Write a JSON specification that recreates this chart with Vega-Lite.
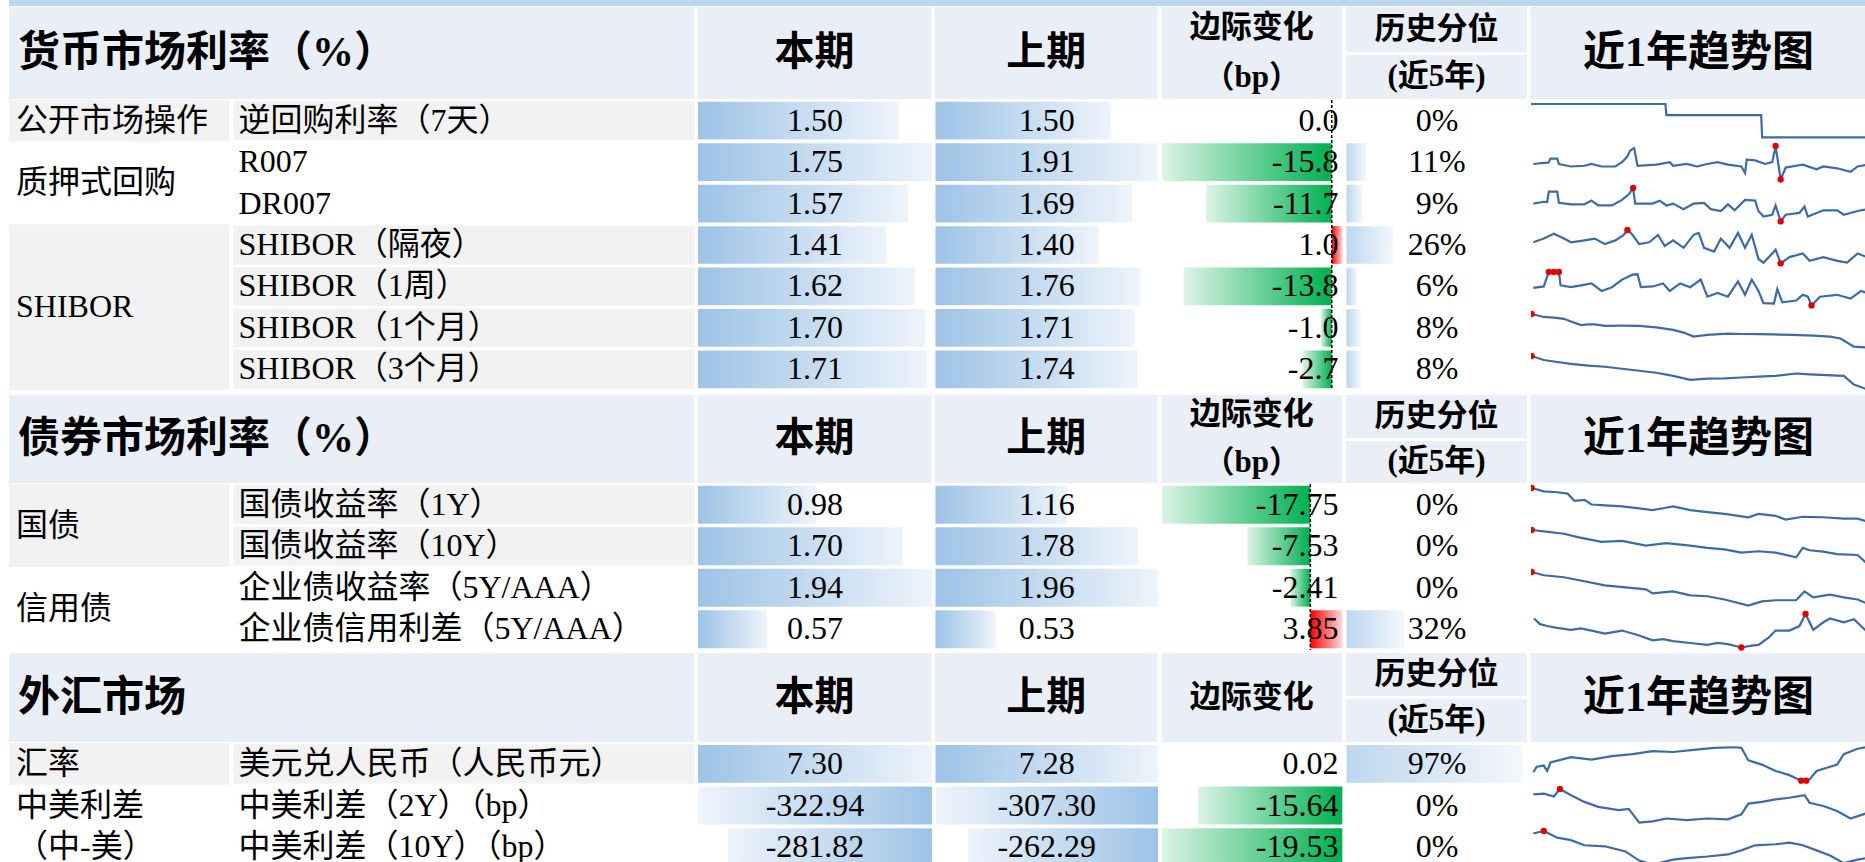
{
"$schema":"https://vega.github.io/schema/vega-lite/v6.json",
"padding":{"left":9,"top":0,"right":0,"bottom":0},
"background":"white",
"config":{"view":{"stroke":null},"font":"Liberation Serif, Noto Sans CJK SC","locale":{"number":{"decimal":".","thousands":",","grouping":[3],"currency":["$",""],"minus":"-"}}},
"datasets":{
"s1":[
{"g":1,"cat":"公开市场操作","item":"逆回购利率（7天）","cur":1.50,"prev":1.50,"chg":0.0,"pct":0.00},
{"g":2,"cat":"质押式回购","item":"R007","cur":1.75,"prev":1.91,"chg":-15.8,"pct":0.11},
{"g":2,"cat":"质押式回购","item":"DR007","cur":1.57,"prev":1.69,"chg":-11.7,"pct":0.09},
{"g":3,"cat":"SHIBOR","item":"SHIBOR（隔夜）","cur":1.41,"prev":1.40,"chg":1.0,"pct":0.26},
{"g":3,"cat":"SHIBOR","item":"SHIBOR（1周）","cur":1.62,"prev":1.76,"chg":-13.8,"pct":0.06},
{"g":3,"cat":"SHIBOR","item":"SHIBOR（1个月）","cur":1.70,"prev":1.71,"chg":-1.0,"pct":0.08},
{"g":3,"cat":"SHIBOR","item":"SHIBOR（3个月）","cur":1.71,"prev":1.74,"chg":-2.7,"pct":0.08}],
"s2":[
{"g":1,"cat":"国债","item":"国债收益率（1Y）","cur":0.98,"prev":1.16,"chg":-17.75,"pct":0},
{"g":1,"cat":"国债","item":"国债收益率（10Y）","cur":1.70,"prev":1.78,"chg":-7.53,"pct":0},
{"g":2,"cat":"信用债","item":"企业债收益率（5Y/AAA）","cur":1.94,"prev":1.96,"chg":-2.41,"pct":0},
{"g":2,"cat":"信用债","item":"企业债信用利差（5Y/AAA）","cur":0.57,"prev":0.53,"chg":3.85,"pct":0.32}],
"s3":[
{"g":1,"cat":"汇率","item":"美元兑人民币（人民币元）","cur":7.30,"prev":7.28,"chg":0.02,"pct":0.97},
{"g":2,"cat":"中美利差\n（中-美）","item":"中美利差（2Y）（bp）","cur":-322.94,"prev":-307.30,"chg":-15.64,"pct":0},
{"g":2,"cat":"中美利差\n（中-美）","item":"中美利差（10Y）（bp）","cur":-281.82,"prev":-262.29,"chg":-19.53,"pct":0}],
"sp1":[
{"s":"逆回购","t":0,"v":1.8},{"s":"逆回购","t":10,"v":1.8},{"s":"逆回购","t":20,"v":1.8},{"s":"逆回购","t":30,"v":1.8},{"s":"逆回购","t":40,"v":1.8},{"s":"逆回购","t":40.3,"v":1.7},{"s":"逆回购","t":50,"v":1.7},{"s":"逆回购","t":60,"v":1.7},{"s":"逆回购","t":68.5,"v":1.7},{"s":"逆回购","t":68.8,"v":1.5},{"s":"逆回购","t":80,"v":1.5},{"s":"逆回购","t":90,"v":1.5},{"s":"逆回购","t":100,"v":1.5},
{"s":"R007","t":0.7,"v":1.850},{"s":"R007","t":3.8,"v":1.865},{"s":"R007","t":5.2,"v":1.868},{"s":"R007","t":5.8,"v":1.925},{"s":"R007","t":7.8,"v":1.925},{"s":"R007","t":8.3,"v":1.850},{"s":"R007","t":11.9,"v":1.815},{"s":"R007","t":15.9,"v":1.825},{"s":"R007","t":18.0,"v":1.850},{"s":"R007","t":21.0,"v":1.815},{"s":"R007","t":25.1,"v":1.815},{"s":"R007","t":27.1,"v":1.875},{"s":"R007","t":28.6,"v":1.950},{"s":"R007","t":29.6,"v":2.040},{"s":"R007","t":30.7,"v":2.070},{"s":"R007","t":31.7,"v":1.825},{"s":"R007","t":37.3,"v":1.840},{"s":"R007","t":41.3,"v":1.875},{"s":"R007","t":42.3,"v":1.825},{"s":"R007","t":46.4,"v":1.850},{"s":"R007","t":49.4,"v":1.815},{"s":"R007","t":52.5,"v":1.850},{"s":"R007","t":55.5,"v":1.875},{"s":"R007","t":58.6,"v":1.840},{"s":"R007","t":62.6,"v":1.815},{"s":"R007","t":63.7,"v":1.725},{"s":"R007","t":64.2,"v":1.910},{"s":"R007","t":66.7,"v":1.900},{"s":"R007","t":69.7,"v":1.850},{"s":"R007","t":71.8,"v":1.875},{"s":"R007","t":72.8,"v":2.100,"hl":"high"},{"s":"R007","t":74.3,"v":1.635,"hl":"low"},{"s":"R007","t":75.8,"v":1.800},{"s":"R007","t":78.9,"v":1.825},{"s":"R007","t":80.9,"v":1.840},{"s":"R007","t":85.0,"v":1.775},{"s":"R007","t":87.0,"v":1.815},{"s":"R007","t":91.1,"v":1.790},{"s":"R007","t":95.1,"v":1.740},{"s":"R007","t":97.2,"v":1.815},{"s":"R007","t":100,"v":1.840},
{"s":"DR007","t":0.7,"v":1.800},{"s":"DR007","t":3.8,"v":1.820},{"s":"DR007","t":4.8,"v":1.816},{"s":"DR007","t":5.3,"v":1.928},{"s":"DR007","t":7.8,"v":1.928},{"s":"DR007","t":8.3,"v":1.808},{"s":"DR007","t":11.9,"v":1.792},{"s":"DR007","t":15.9,"v":1.792},{"s":"DR007","t":18.0,"v":1.832},{"s":"DR007","t":20.0,"v":1.780},{"s":"DR007","t":24.1,"v":1.780},{"s":"DR007","t":27.1,"v":1.840},{"s":"DR007","t":29.1,"v":1.900},{"s":"DR007","t":30.4,"v":1.968,"hl":"high"},{"s":"DR007","t":31.0,"v":1.800},{"s":"DR007","t":36.2,"v":1.800},{"s":"DR007","t":38.3,"v":1.832},{"s":"DR007","t":40.3,"v":1.780},{"s":"DR007","t":42.3,"v":1.800},{"s":"DR007","t":45.4,"v":1.740},{"s":"DR007","t":48.4,"v":1.800},{"s":"DR007","t":51.5,"v":1.808},{"s":"DR007","t":53.5,"v":1.740},{"s":"DR007","t":56.5,"v":1.720},{"s":"DR007","t":58.6,"v":1.792},{"s":"DR007","t":60.6,"v":1.728},{"s":"DR007","t":63.7,"v":1.840},{"s":"DR007","t":66.7,"v":1.832},{"s":"DR007","t":67.7,"v":1.720},{"s":"DR007","t":69.2,"v":1.660},{"s":"DR007","t":71.8,"v":1.680},{"s":"DR007","t":72.8,"v":1.780},{"s":"DR007","t":74.3,"v":1.608,"hl":"low"},{"s":"DR007","t":75.8,"v":1.680},{"s":"DR007","t":79.9,"v":1.700},{"s":"DR007","t":81.4,"v":1.768},{"s":"DR007","t":82.4,"v":1.660},{"s":"DR007","t":87.0,"v":1.728},{"s":"DR007","t":91.1,"v":1.728},{"s":"DR007","t":93.1,"v":1.680},{"s":"DR007","t":97.2,"v":1.720},{"s":"DR007","t":100,"v":1.740},
{"s":"隔夜","t":0.7,"v":1.750},{"s":"隔夜","t":3.8,"v":1.790},{"s":"隔夜","t":6.8,"v":1.842},{"s":"隔夜","t":9.8,"v":1.790},{"s":"隔夜","t":11.9,"v":1.750},{"s":"隔夜","t":15.9,"v":1.770},{"s":"隔夜","t":19.0,"v":1.790},{"s":"隔夜","t":22.0,"v":1.730},{"s":"隔夜","t":25.1,"v":1.770},{"s":"隔夜","t":27.6,"v":1.830},{"s":"隔夜","t":28.7,"v":1.882,"hl":"high"},{"s":"隔夜","t":30.2,"v":1.830},{"s":"隔夜","t":32.2,"v":1.730},{"s":"隔夜","t":35.2,"v":1.750},{"s":"隔夜","t":37.8,"v":1.830},{"s":"隔夜","t":39.8,"v":1.710},{"s":"隔夜","t":42.3,"v":1.770},{"s":"隔夜","t":45.4,"v":1.690},{"s":"隔夜","t":48.4,"v":1.830},{"s":"隔夜","t":49.9,"v":1.850},{"s":"隔夜","t":51.5,"v":1.690},{"s":"隔夜","t":54.5,"v":1.650},{"s":"隔夜","t":56.5,"v":1.790},{"s":"隔夜","t":59.1,"v":1.690},{"s":"隔夜","t":61.6,"v":1.850},{"s":"隔夜","t":63.7,"v":1.690},{"s":"隔夜","t":65.7,"v":1.830},{"s":"隔夜","t":67.7,"v":1.570},{"s":"隔夜","t":69.2,"v":1.530},{"s":"隔夜","t":71.8,"v":1.630},{"s":"隔夜","t":72.8,"v":1.670},{"s":"隔夜","t":74.3,"v":1.522,"hl":"low"},{"s":"隔夜","t":76.9,"v":1.590},{"s":"隔夜","t":80.9,"v":1.630},{"s":"隔夜","t":82.9,"v":1.550},{"s":"隔夜","t":87.0,"v":1.590},{"s":"隔夜","t":91.1,"v":1.550},{"s":"隔夜","t":94.1,"v":1.530},{"s":"隔夜","t":97.2,"v":1.630},{"s":"隔夜","t":100,"v":1.590},
{"s":"1周","t":0.7,"v":1.850},{"s":"1周","t":3.8,"v":1.866},{"s":"1周","t":5.3,"v":2.018,"hl":"high"},{"s":"1周","t":6.8,"v":2.018,"hl":"high"},{"s":"1周","t":8.3,"v":2.018,"hl":"high"},{"s":"1周","t":8.8,"v":1.878},{"s":"1周","t":11.9,"v":1.858},{"s":"1周","t":14.9,"v":1.878},{"s":"1周","t":18.0,"v":1.898},{"s":"1周","t":21.0,"v":1.818},{"s":"1周","t":24.1,"v":1.858},{"s":"1周","t":27.1,"v":1.938},{"s":"1周","t":30.2,"v":1.990},{"s":"1周","t":31.7,"v":1.994},{"s":"1周","t":32.7,"v":1.858},{"s":"1周","t":36.2,"v":1.866},{"s":"1周","t":39.3,"v":1.898},{"s":"1周","t":41.3,"v":1.818},{"s":"1周","t":44.4,"v":1.898},{"s":"1周","t":47.4,"v":1.858},{"s":"1周","t":50.5,"v":1.938},{"s":"1周","t":52.5,"v":1.758},{"s":"1周","t":55.5,"v":1.798},{"s":"1周","t":58.6,"v":1.758},{"s":"1周","t":61.6,"v":1.918},{"s":"1周","t":63.7,"v":1.778},{"s":"1周","t":65.7,"v":1.938},{"s":"1周","t":67.7,"v":1.818},{"s":"1周","t":69.2,"v":1.690},{"s":"1周","t":72.3,"v":1.686},{"s":"1周","t":73.3,"v":1.838},{"s":"1周","t":74.8,"v":1.698},{"s":"1周","t":78.9,"v":1.718},{"s":"1周","t":80.9,"v":1.778},{"s":"1周","t":82.4,"v":1.758},{"s":"1周","t":83.5,"v":1.666,"hl":"low"},{"s":"1周","t":86.0,"v":1.758},{"s":"1周","t":91.1,"v":1.778},{"s":"1周","t":95.1,"v":1.738},{"s":"1周","t":98.2,"v":1.818},{"s":"1周","t":100,"v":1.798},
{"s":"1个月","t":0.2,"v":2.100,"hl":"high"},{"s":"1个月","t":3.8,"v":2.064},{"s":"1个月","t":6.8,"v":2.055},{"s":"1个月","t":9.8,"v":2.042},{"s":"1个月","t":11.9,"v":2.010},{"s":"1个月","t":14.9,"v":1.965},{"s":"1个月","t":17.0,"v":1.974},{"s":"1个月","t":19.0,"v":1.974},{"s":"1个月","t":22.0,"v":1.956},{"s":"1个月","t":27.0,"v":1.958},{"s":"1个月","t":32.2,"v":1.956},{"s":"1个月","t":37.3,"v":1.938},{"s":"1个月","t":42.3,"v":1.907},{"s":"1个月","t":45.4,"v":1.875},{"s":"1个月","t":48.4,"v":1.826},{"s":"1个月","t":52.5,"v":1.848},{"s":"1个月","t":58.6,"v":1.862},{"s":"1个月","t":63.0,"v":1.858},{"s":"1个月","t":67.7,"v":1.857},{"s":"1个月","t":72.0,"v":1.852},{"s":"1个月","t":77.9,"v":1.848},{"s":"1个月","t":84.0,"v":1.839},{"s":"1个月","t":89.0,"v":1.826},{"s":"1个月","t":92.1,"v":1.803},{"s":"1个月","t":96.1,"v":1.704},{"s":"1个月","t":100,"v":1.695},
{"s":"3个月","t":0.2,"v":2.200,"hl":"high"},{"s":"3个月","t":3.8,"v":2.150},{"s":"3个月","t":7.8,"v":2.125},{"s":"3个月","t":11.9,"v":2.100},{"s":"3个月","t":17.0,"v":2.080},{"s":"3个月","t":22.0,"v":2.065},{"s":"3个月","t":27.1,"v":2.040},{"s":"3个月","t":32.2,"v":2.015},{"s":"3个月","t":37.3,"v":1.990},{"s":"3个月","t":42.3,"v":1.950},{"s":"3个月","t":47.4,"v":1.900},{"s":"3个月","t":52.5,"v":1.915},{"s":"3个月","t":57.6,"v":1.920},{"s":"3个月","t":62.6,"v":1.930},{"s":"3个月","t":67.7,"v":1.940},{"s":"3个月","t":72.8,"v":1.950},{"s":"3个月","t":78.9,"v":1.980},{"s":"3个月","t":82.9,"v":1.970},{"s":"3个月","t":88.0,"v":1.960},{"s":"3个月","t":93.1,"v":1.950},{"s":"3个月","t":96.1,"v":1.840},{"s":"3个月","t":100,"v":1.780}],
"sp2":[
{"s":"1Y","t":0.2,"v":2.100,"hl":"high"},{"s":"1Y","t":3.8,"v":2.016},{"s":"1Y","t":7.8,"v":1.992},{"s":"1Y","t":10.9,"v":1.956},{"s":"1Y","t":12.9,"v":1.776},{"s":"1Y","t":15.9,"v":1.800},{"s":"1Y","t":18.0,"v":1.680},{"s":"1Y","t":22.0,"v":1.656},{"s":"1Y","t":27.1,"v":1.632},{"s":"1Y","t":32.2,"v":1.584},{"s":"1Y","t":36.2,"v":1.536},{"s":"1Y","t":39.3,"v":1.584},{"s":"1Y","t":42.3,"v":1.632},{"s":"1Y","t":47.4,"v":1.536},{"s":"1Y","t":52.5,"v":1.488},{"s":"1Y","t":57.6,"v":1.440},{"s":"1Y","t":64.7,"v":1.356},{"s":"1Y","t":67.7,"v":1.440},{"s":"1Y","t":72.8,"v":1.392},{"s":"1Y","t":75.8,"v":1.296},{"s":"1Y","t":80.9,"v":1.368},{"s":"1Y","t":87.0,"v":1.356},{"s":"1Y","t":93.1,"v":1.320},{"s":"1Y","t":97.2,"v":1.320},{"s":"1Y","t":100,"v":1.248},
{"s":"10Y","t":0.2,"v":2.550,"hl":"high"},{"s":"10Y","t":3.8,"v":2.526},{"s":"10Y","t":9.8,"v":2.486},{"s":"10Y","t":13.9,"v":2.430},{"s":"10Y","t":18.0,"v":2.382},{"s":"10Y","t":21.0,"v":2.350},{"s":"10Y","t":27.1,"v":2.366},{"s":"10Y","t":34.2,"v":2.286},{"s":"10Y","t":40.3,"v":2.326},{"s":"10Y","t":47.4,"v":2.286},{"s":"10Y","t":52.5,"v":2.246},{"s":"10Y","t":57.6,"v":2.222},{"s":"10Y","t":62.6,"v":2.166},{"s":"10Y","t":67.7,"v":2.190},{"s":"10Y","t":72.8,"v":2.166},{"s":"10Y","t":78.9,"v":2.086},{"s":"10Y","t":80.9,"v":2.246},{"s":"10Y","t":82.9,"v":2.206},{"s":"10Y","t":87.0,"v":2.182},{"s":"10Y","t":91.1,"v":2.142},{"s":"10Y","t":97.2,"v":2.126},{"s":"10Y","t":100,"v":1.982},
{"s":"企业债","t":0.2,"v":2.750,"hl":"high"},{"s":"企业债","t":3.8,"v":2.682},{"s":"企业债","t":9.8,"v":2.640},{"s":"企业债","t":15.9,"v":2.555},{"s":"企业债","t":22.0,"v":2.470},{"s":"企业债","t":28.1,"v":2.427},{"s":"企业债","t":34.2,"v":2.385},{"s":"企业债","t":36.2,"v":2.300},{"s":"企业债","t":42.3,"v":2.342},{"s":"企业债","t":47.4,"v":2.257},{"s":"企业债","t":52.5,"v":2.240},{"s":"企业债","t":57.6,"v":2.172},{"s":"企业债","t":64.7,"v":2.045},{"s":"企业债","t":68.7,"v":2.130},{"s":"企业债","t":72.8,"v":2.155},{"s":"企业债","t":78.9,"v":2.155},{"s":"企业债","t":81.4,"v":2.342},{"s":"企业债","t":84.0,"v":2.215},{"s":"企业债","t":89.0,"v":2.274},{"s":"企业债","t":93.1,"v":2.215},{"s":"企业债","t":97.2,"v":2.172},{"s":"企业债","t":100,"v":2.087},
{"s":"信用利差","t":0.9,"v":0.550},{"s":"信用利差","t":2.7,"v":0.505},{"s":"信用利差","t":4.8,"v":0.490},{"s":"信用利差","t":7.8,"v":0.475},{"s":"信用利差","t":11.9,"v":0.460},{"s":"信用利差","t":14.9,"v":0.472},{"s":"信用利差","t":18.0,"v":0.454},{"s":"信用利差","t":22.0,"v":0.430},{"s":"信用利差","t":27.1,"v":0.454},{"s":"信用利差","t":32.2,"v":0.415},{"s":"信用利差","t":36.2,"v":0.376},{"s":"信用利差","t":39.3,"v":0.385},{"s":"信用利差","t":42.3,"v":0.370},{"s":"信用利差","t":47.4,"v":0.355},{"s":"信用利差","t":52.5,"v":0.340},{"s":"信用利差","t":55.5,"v":0.355},{"s":"信用利差","t":58.6,"v":0.346},{"s":"信用利差","t":62.6,"v":0.319,"hl":"low"},{"s":"信用利差","t":65.7,"v":0.334},{"s":"信用利差","t":67.7,"v":0.340},{"s":"信用利差","t":70.8,"v":0.400},{"s":"信用利差","t":72.8,"v":0.454},{"s":"信用利差","t":76.9,"v":0.454},{"s":"信用利差","t":79.9,"v":0.490},{"s":"信用利差","t":81.7,"v":0.586,"hl":"high"},{"s":"信用利差","t":84.0,"v":0.460},{"s":"信用利差","t":87.0,"v":0.520},{"s":"信用利差","t":89.0,"v":0.550},{"s":"信用利差","t":93.1,"v":0.520},{"s":"信用利差","t":96.1,"v":0.544},{"s":"信用利差","t":100,"v":0.445}],
"sp3":[
{"s":"汇率","t":0.7,"v":7.068},{"s":"汇率","t":1.7,"v":7.110},{"s":"汇率","t":3.8,"v":7.119},{"s":"汇率","t":4.8,"v":7.078},{"s":"汇率","t":5.8,"v":7.142},{"s":"汇率","t":11.9,"v":7.183},{"s":"汇率","t":18.0,"v":7.164},{"s":"汇率","t":24.1,"v":7.190},{"s":"汇率","t":30.2,"v":7.206},{"s":"汇率","t":36.2,"v":7.228},{"s":"汇率","t":42.3,"v":7.222},{"s":"汇率","t":48.4,"v":7.238},{"s":"汇率","t":54.5,"v":7.254},{"s":"汇率","t":60.6,"v":7.258},{"s":"汇率","t":62.6,"v":7.254},{"s":"汇率","t":64.7,"v":7.158},{"s":"汇率","t":68.7,"v":7.126},{"s":"汇率","t":72.8,"v":7.078},{"s":"汇率","t":76.9,"v":7.046},{"s":"汇率","t":80.4,"v":7.004,"hl":"low"},{"s":"汇率","t":81.9,"v":7.004,"hl":"low"},{"s":"汇率","t":82.9,"v":7.014},{"s":"汇率","t":85.0,"v":7.078},{"s":"汇率","t":89.0,"v":7.110},{"s":"汇率","t":91.1,"v":7.126},{"s":"汇率","t":93.1,"v":7.206},{"s":"汇率","t":97.2,"v":7.247},{"s":"汇率","t":100,"v":7.260},
{"s":"中美2Y","t":0.7,"v":-220.0},{"s":"中美2Y","t":3.8,"v":-217.0},{"s":"中美2Y","t":6.8,"v":-227.5},{"s":"中美2Y","t":8.6,"v":-200.5,"hl":"high"},{"s":"中美2Y","t":11.9,"v":-223.0},{"s":"中美2Y","t":15.9,"v":-247.0},{"s":"中美2Y","t":20.0,"v":-265.0},{"s":"中美2Y","t":26.1,"v":-277.0},{"s":"中美2Y","t":29.1,"v":-272.5},{"s":"中美2Y","t":32.2,"v":-322.0},{"s":"中美2Y","t":36.2,"v":-317.5},{"s":"中美2Y","t":40.3,"v":-307.0},{"s":"中美2Y","t":46.4,"v":-313.0},{"s":"中美2Y","t":52.5,"v":-307.0},{"s":"中美2Y","t":58.6,"v":-310.0},{"s":"中美2Y","t":62.6,"v":-292.0},{"s":"中美2Y","t":64.7,"v":-253.0},{"s":"中美2Y","t":68.7,"v":-247.0},{"s":"中美2Y","t":72.8,"v":-238.0},{"s":"中美2Y","t":76.9,"v":-232.0},{"s":"中美2Y","t":81.4,"v":-223.0},{"s":"中美2Y","t":82.9,"v":-250.0},{"s":"中美2Y","t":87.0,"v":-262.0},{"s":"中美2Y","t":91.1,"v":-280.0},{"s":"中美2Y","t":95.1,"v":-307.0},{"s":"中美2Y","t":100,"v":-287.5},
{"s":"中美10Y","t":0.7,"v":-160.0},{"s":"中美10Y","t":3.8,"v":-152.5,"hl":"high"},{"s":"中美10Y","t":7.8,"v":-172.0},{"s":"中美10Y","t":11.9,"v":-179.5},{"s":"中美10Y","t":15.9,"v":-194.5},{"s":"中美10Y","t":22.0,"v":-197.5},{"s":"中美10Y","t":28.1,"v":-212.5},{"s":"中美10Y","t":32.2,"v":-239.5},{"s":"中美10Y","t":36.2,"v":-251.5},{"s":"中美10Y","t":42.3,"v":-236.5},{"s":"中美10Y","t":46.4,"v":-232.0},{"s":"中美10Y","t":52.5,"v":-227.5},{"s":"中美10Y","t":58.6,"v":-221.5},{"s":"中美10Y","t":62.6,"v":-209.5},{"s":"中美10Y","t":66.7,"v":-194.5},{"s":"中美10Y","t":72.8,"v":-191.5},{"s":"中美10Y","t":76.9,"v":-187.0},{"s":"中美10Y","t":80.9,"v":-194.5},{"s":"中美10Y","t":85.0,"v":-209.5},{"s":"中美10Y","t":89.0,"v":-224.5},{"s":"中美10Y","t":93.1,"v":-247.0},{"s":"中美10Y","t":97.2,"v":-236.5},{"s":"中美10Y","t":100,"v":-232.0}]
},
"vconcat":[
{"width":1856,"height":6,"data":{"values":[{}]},"mark":{"type":"rect","fill":"#BDD7EE"},"encoding":{"x":{"value":0},"x2":{"value":"width"},"y":{"value":0},"y2":{"value":"height"}}},

{"hconcat":[
{"width":685,"height":92,"view":{"fill":"#E9EEF7","stroke":null},"data":{"values":[{"t":"货币市场利率（%）"}]},"mark":{"type":"text","align":"left","baseline":"middle","dx":9,"fontSize":42,"fontWeight":"bold"},"encoding":{"x":{"value":0},"text":{"field":"t"}}},
{"width":234,"height":92,"view":{"fill":"#E9EEF7","stroke":null},"data":{"values":[{"t":"本期"}]},"mark":{"type":"text","baseline":"middle","fontSize":40,"fontWeight":"bold"},"encoding":{"text":{"field":"t"}}},
{"width":222.5,"height":92,"view":{"fill":"#E9EEF7","stroke":null},"data":{"values":[{"t":"上期"}]},"mark":{"type":"text","baseline":"middle","fontSize":40,"fontWeight":"bold"},"encoding":{"text":{"field":"t"}}},
{"width":180.5,"height":92,"view":{"fill":"#E9EEF7","stroke":null},"data":{"values":[{"t":"边际变化\n（bp）"}]},"mark":{"type":"text","baseline":"middle","dy":-25,"fontSize":31,"fontWeight":"bold","lineBreak":"\n","lineHeight":50},"encoding":{"text":{"field":"t"}}},
{"vconcat":[
{"width":181,"height":45,"view":{"fill":"#E9EEF7","stroke":null},"data":{"values":[{"t":"历史分位"}]},"mark":{"type":"text","baseline":"middle","fontSize":31,"fontWeight":"bold"},"encoding":{"text":{"field":"t"}}},
{"width":181,"height":44,"view":{"fill":"#E9EEF7","stroke":null},"data":{"values":[{"t":"(近5年)"}]},"mark":{"type":"text","baseline":"middle","fontSize":31,"fontWeight":"bold"},"encoding":{"text":{"field":"t"}}}
],"spacing":3},
{"width":336,"height":92,"view":{"fill":"#E9EEF7","stroke":null},"data":{"values":[{"t":"近1年趋势图"}]},"mark":{"type":"text","baseline":"middle","fontSize":42,"fontWeight":"bold"},"encoding":{"text":{"field":"t"}}}
],"spacing":3.5},

{"hconcat":[
{"width":220.5,"height":290,"data":{"name":"s1"},
"transform":[{"window":[{"op":"row_number","as":"rn"}]},{"aggregate":[{"op":"min","field":"rn","as":"r0"},{"op":"max","field":"rn","as":"r1"}],"groupby":["cat","g"]},{"calculate":"datum.r0-1","as":"top"},{"calculate":"(datum.r0-1+datum.r1)/2","as":"mid"}],
"layer":[
{"transform":[{"filter":"datum.g%2==1"}],"mark":{"type":"rect","fill":"#F2F2F2"},"encoding":{"x":{"value":0},"x2":{"value":"width"},"y":{"field":"top","type":"quantitative","scale":{"domain":[0,7],"reverse":true,"nice":false,"zero":false},"axis":null},"y2":{"field":"r1"}}},
{"mark":{"type":"text","align":"left","baseline":"middle","dx":7,"fontSize":32,"lineBreak":"\n","lineHeight":41.5},"encoding":{"x":{"value":0},"y":{"field":"mid","type":"quantitative"},"text":{"field":"cat"}}}
]},
{"width":461,"height":290,"data":{"name":"s1"},
"encoding":{"y":{"field":"item","type":"nominal","scale":{"domain":["逆回购利率（7天）","R007","DR007","SHIBOR（隔夜）","SHIBOR（1周）","SHIBOR（1个月）","SHIBOR（3个月）"],"paddingInner":0.06,"paddingOuter":0.03},"axis":null}},
"layer":[
{"transform":[{"filter":"datum.g%2==1"}],"mark":{"type":"rect","fill":"#F2F2F2"},"encoding":{"x":{"value":0},"x2":{"value":"width"}}},
{"mark":{"type":"text","align":"left","baseline":"middle","dx":5,"fontSize":32},"encoding":{"x":{"value":0},"text":{"field":"item"}}}
]},
{"width":234,"height":290,"data":{"name":"s1"},
"encoding":{"y":{"field":"item","type":"nominal","scale":{"domain":["逆回购利率（7天）","R007","DR007","SHIBOR（隔夜）","SHIBOR（1周）","SHIBOR（1个月）","SHIBOR（3个月）"],"paddingInner":0.09,"paddingOuter":0.045},"axis":null}},
"layer":[
{"mark":{"type":"bar","fill":{"gradient":"linear","x1":0,"y1":0,"x2":1,"y2":0,"stops":[{"offset":0,"color":"#9DC3E6"},{"offset":1,"color":"#EEF4FB"}]}},"encoding":{"x":{"field":"cur","type":"quantitative","scale":{"nice":false},"axis":null}}},
{"mark":{"type":"text","baseline":"middle","fontSize":32},"encoding":{"text":{"field":"cur","format":".2f"}}}
]},
{"width":222.5,"height":290,"data":{"name":"s1"},
"encoding":{"y":{"field":"item","type":"nominal","scale":{"domain":["逆回购利率（7天）","R007","DR007","SHIBOR（隔夜）","SHIBOR（1周）","SHIBOR（1个月）","SHIBOR（3个月）"],"paddingInner":0.09,"paddingOuter":0.045},"axis":null}},
"layer":[
{"mark":{"type":"bar","fill":{"gradient":"linear","x1":0,"y1":0,"x2":1,"y2":0,"stops":[{"offset":0,"color":"#9DC3E6"},{"offset":1,"color":"#EEF4FB"}]}},"encoding":{"x":{"field":"prev","type":"quantitative","scale":{"nice":false},"axis":null}}},
{"mark":{"type":"text","baseline":"middle","fontSize":32},"encoding":{"text":{"field":"prev","format":".2f"}}}
]},
{"width":180.5,"height":290,"data":{"name":"s1"},
"layer":[
{"transform":[{"filter":"datum.chg<0"}],"mark":{"type":"bar","fill":{"gradient":"linear","x1":0,"y1":0,"x2":1,"y2":0,"stops":[{"offset":0,"color":"#DDF4E6"},{"offset":1,"color":"#00B050"}]}},"encoding":{"y":{"field":"item","type":"nominal","scale":{"domain":["逆回购利率（7天）","R007","DR007","SHIBOR（隔夜）","SHIBOR（1周）","SHIBOR（1个月）","SHIBOR（3个月）"],"paddingInner":0.09,"paddingOuter":0.045},"axis":null},"x":{"field":"chg","type":"quantitative","scale":{"nice":false},"axis":null}}},
{"transform":[{"filter":"datum.chg>0"}],"mark":{"type":"bar","fill":{"gradient":"linear","x1":0,"y1":0,"x2":1,"y2":0,"stops":[{"offset":0,"color":"#FF0000"},{"offset":1,"color":"#FFDADA"}]}},"encoding":{"y":{"field":"item","type":"nominal"},"x":{"field":"chg","type":"quantitative"}}},
{"data":{"values":[{}]},"mark":{"type":"rule","color":"black","strokeDash":[3,2],"strokeWidth":1.5,"clip":true},"encoding":{"x":{"datum":0,"type":"quantitative"}}},
{"mark":{"type":"text","align":"right","baseline":"middle","dx":-4,"fontSize":32},"encoding":{"y":{"field":"item","type":"nominal"},"x":{"value":"width"},"text":{"field":"chg","format":".1f"}}}
]},
{"width":181,"height":290,"data":{"name":"s1"},
"encoding":{"y":{"field":"item","type":"nominal","scale":{"domain":["逆回购利率（7天）","R007","DR007","SHIBOR（隔夜）","SHIBOR（1周）","SHIBOR（1个月）","SHIBOR（3个月）"],"paddingInner":0.09,"paddingOuter":0.045},"axis":null}},
"layer":[
{"mark":{"type":"bar","fill":{"gradient":"linear","x1":0,"y1":0,"x2":1,"y2":0,"stops":[{"offset":0,"color":"#BDD7EE"},{"offset":1,"color":"#F4F8FC"}]}},"encoding":{"x":{"field":"pct","type":"quantitative","scale":{"domain":[0,1],"nice":false},"axis":null}}},
{"mark":{"type":"text","baseline":"middle","fontSize":32},"encoding":{"text":{"field":"pct","format":".0%"}}}
]},
{"data":{"name":"sp1"},
"facet":{"row":{"field":"s","type":"nominal","sort":["逆回购","R007","DR007","隔夜","1周","1个月","3个月"],"header":null}},
"spacing":{"row":0},"bounds":"flush",
"resolve":{"scale":{"y":"independent"}},
"spec":{"width":336,"height":41.43,
"layer":[
{"mark":{"type":"line","color":"#3C6BA5","strokeWidth":2.2,"clip":true},"encoding":{"x":{"field":"t","type":"quantitative","scale":{"domain":[0,100],"nice":false},"axis":null},"y":{"field":"v","type":"quantitative","scale":{"zero":false,"nice":false,"padding":4},"axis":null}}},
{"transform":[{"filter":"datum.hl"}],"mark":{"type":"point","filled":true,"color":"#E00000","size":40,"opacity":1,"clip":true},"encoding":{"x":{"field":"t","type":"quantitative"},"y":{"field":"v","type":"quantitative"}}}
]}}
],"spacing":3.5},

{"hconcat":[
{"width":685,"height":88,"view":{"fill":"#E9EEF7","stroke":null},"data":{"values":[{"t":"债券市场利率（%）"}]},"mark":{"type":"text","align":"left","baseline":"middle","dx":9,"fontSize":42,"fontWeight":"bold"},"encoding":{"x":{"value":0},"text":{"field":"t"}}},
{"width":234,"height":88,"view":{"fill":"#E9EEF7","stroke":null},"data":{"values":[{"t":"本期"}]},"mark":{"type":"text","baseline":"middle","fontSize":40,"fontWeight":"bold"},"encoding":{"text":{"field":"t"}}},
{"width":222.5,"height":88,"view":{"fill":"#E9EEF7","stroke":null},"data":{"values":[{"t":"上期"}]},"mark":{"type":"text","baseline":"middle","fontSize":40,"fontWeight":"bold"},"encoding":{"text":{"field":"t"}}},
{"width":180.5,"height":88,"view":{"fill":"#E9EEF7","stroke":null},"data":{"values":[{"t":"边际变化\n（bp）"}]},"mark":{"type":"text","baseline":"middle","dy":-24,"fontSize":31,"fontWeight":"bold","lineBreak":"\n","lineHeight":48},"encoding":{"text":{"field":"t"}}},
{"vconcat":[
{"width":181,"height":43,"view":{"fill":"#E9EEF7","stroke":null},"data":{"values":[{"t":"历史分位"}]},"mark":{"type":"text","baseline":"middle","fontSize":31,"fontWeight":"bold"},"encoding":{"text":{"field":"t"}}},
{"width":181,"height":42,"view":{"fill":"#E9EEF7","stroke":null},"data":{"values":[{"t":"(近5年)"}]},"mark":{"type":"text","baseline":"middle","fontSize":31,"fontWeight":"bold"},"encoding":{"text":{"field":"t"}}}
],"spacing":3},
{"width":336,"height":88,"view":{"fill":"#E9EEF7","stroke":null},"data":{"values":[{"t":"近1年趋势图"}]},"mark":{"type":"text","baseline":"middle","fontSize":42,"fontWeight":"bold"},"encoding":{"text":{"field":"t"}}}
],"spacing":3.5},

{"hconcat":[
{"width":220.5,"height":166,"data":{"name":"s2"},
"transform":[{"window":[{"op":"row_number","as":"rn"}]},{"aggregate":[{"op":"min","field":"rn","as":"r0"},{"op":"max","field":"rn","as":"r1"}],"groupby":["cat","g"]},{"calculate":"datum.r0-1","as":"top"},{"calculate":"(datum.r0-1+datum.r1)/2","as":"mid"}],
"layer":[
{"transform":[{"filter":"datum.g%2==1"}],"mark":{"type":"rect","fill":"#F2F2F2"},"encoding":{"x":{"value":0},"x2":{"value":"width"},"y":{"field":"top","type":"quantitative","scale":{"domain":[0,4],"reverse":true,"nice":false,"zero":false},"axis":null},"y2":{"field":"r1"}}},
{"mark":{"type":"text","align":"left","baseline":"middle","dx":7,"fontSize":32,"lineBreak":"\n","lineHeight":41.5},"encoding":{"x":{"value":0},"y":{"field":"mid","type":"quantitative"},"text":{"field":"cat"}}}
]},
{"width":461,"height":166,"data":{"name":"s2"},
"encoding":{"y":{"field":"item","type":"nominal","scale":{"domain":["国债收益率（1Y）","国债收益率（10Y）","企业债收益率（5Y/AAA）","企业债信用利差（5Y/AAA）"],"paddingInner":0.06,"paddingOuter":0.03},"axis":null}},
"layer":[
{"transform":[{"filter":"datum.g%2==1"}],"mark":{"type":"rect","fill":"#F2F2F2"},"encoding":{"x":{"value":0},"x2":{"value":"width"}}},
{"mark":{"type":"text","align":"left","baseline":"middle","dx":5,"fontSize":32},"encoding":{"x":{"value":0},"text":{"field":"item"}}}
]},
{"width":234,"height":166,"data":{"name":"s2"},
"encoding":{"y":{"field":"item","type":"nominal","scale":{"domain":["国债收益率（1Y）","国债收益率（10Y）","企业债收益率（5Y/AAA）","企业债信用利差（5Y/AAA）"],"paddingInner":0.09,"paddingOuter":0.045},"axis":null}},
"layer":[
{"mark":{"type":"bar","fill":{"gradient":"linear","x1":0,"y1":0,"x2":1,"y2":0,"stops":[{"offset":0,"color":"#9DC3E6"},{"offset":1,"color":"#EEF4FB"}]}},"encoding":{"x":{"field":"cur","type":"quantitative","scale":{"nice":false},"axis":null}}},
{"mark":{"type":"text","baseline":"middle","fontSize":32},"encoding":{"text":{"field":"cur","format":".2f"}}}
]},
{"width":222.5,"height":166,"data":{"name":"s2"},
"encoding":{"y":{"field":"item","type":"nominal","scale":{"domain":["国债收益率（1Y）","国债收益率（10Y）","企业债收益率（5Y/AAA）","企业债信用利差（5Y/AAA）"],"paddingInner":0.09,"paddingOuter":0.045},"axis":null}},
"layer":[
{"mark":{"type":"bar","fill":{"gradient":"linear","x1":0,"y1":0,"x2":1,"y2":0,"stops":[{"offset":0,"color":"#9DC3E6"},{"offset":1,"color":"#EEF4FB"}]}},"encoding":{"x":{"field":"prev","type":"quantitative","scale":{"nice":false},"axis":null}}},
{"mark":{"type":"text","baseline":"middle","fontSize":32},"encoding":{"text":{"field":"prev","format":".2f"}}}
]},
{"width":180.5,"height":166,"data":{"name":"s2"},
"layer":[
{"transform":[{"filter":"datum.chg<0"}],"mark":{"type":"bar","fill":{"gradient":"linear","x1":0,"y1":0,"x2":1,"y2":0,"stops":[{"offset":0,"color":"#DDF4E6"},{"offset":1,"color":"#00B050"}]}},"encoding":{"y":{"field":"item","type":"nominal","scale":{"domain":["国债收益率（1Y）","国债收益率（10Y）","企业债收益率（5Y/AAA）","企业债信用利差（5Y/AAA）"],"paddingInner":0.09,"paddingOuter":0.045},"axis":null},"x":{"field":"chg","type":"quantitative","scale":{"nice":false},"axis":null}}},
{"transform":[{"filter":"datum.chg>0"}],"mark":{"type":"bar","fill":{"gradient":"linear","x1":0,"y1":0,"x2":1,"y2":0,"stops":[{"offset":0,"color":"#FF0000"},{"offset":1,"color":"#FFDADA"}]}},"encoding":{"y":{"field":"item","type":"nominal"},"x":{"field":"chg","type":"quantitative"}}},
{"data":{"values":[{}]},"mark":{"type":"rule","color":"black","strokeDash":[3,2],"strokeWidth":1.5,"clip":true},"encoding":{"x":{"datum":0,"type":"quantitative"}}},
{"mark":{"type":"text","align":"right","baseline":"middle","dx":-4,"fontSize":32},"encoding":{"y":{"field":"item","type":"nominal"},"x":{"value":"width"},"text":{"field":"chg","format":".2f"}}}
]},
{"width":181,"height":166,"data":{"name":"s2"},
"encoding":{"y":{"field":"item","type":"nominal","scale":{"domain":["国债收益率（1Y）","国债收益率（10Y）","企业债收益率（5Y/AAA）","企业债信用利差（5Y/AAA）"],"paddingInner":0.09,"paddingOuter":0.045},"axis":null}},
"layer":[
{"mark":{"type":"bar","fill":{"gradient":"linear","x1":0,"y1":0,"x2":1,"y2":0,"stops":[{"offset":0,"color":"#BDD7EE"},{"offset":1,"color":"#F4F8FC"}]}},"encoding":{"x":{"field":"pct","type":"quantitative","scale":{"domain":[0,1],"nice":false},"axis":null}}},
{"mark":{"type":"text","baseline":"middle","fontSize":32},"encoding":{"text":{"field":"pct","format":".0%"}}}
]},
{"data":{"name":"sp2"},
"facet":{"row":{"field":"s","type":"nominal","sort":["1Y","10Y","企业债","信用利差"],"header":null}},
"spacing":{"row":0},"bounds":"flush",
"resolve":{"scale":{"y":"independent"}},
"spec":{"width":336,"height":41.5,
"layer":[
{"mark":{"type":"line","color":"#3C6BA5","strokeWidth":2.2,"clip":true},"encoding":{"x":{"field":"t","type":"quantitative","scale":{"domain":[0,100],"nice":false},"axis":null},"y":{"field":"v","type":"quantitative","scale":{"zero":false,"nice":false,"padding":4},"axis":null}}},
{"transform":[{"filter":"datum.hl"}],"mark":{"type":"point","filled":true,"color":"#E00000","size":40,"opacity":1,"clip":true},"encoding":{"x":{"field":"t","type":"quantitative"},"y":{"field":"v","type":"quantitative"}}}
]}}
],"spacing":3.5},

{"hconcat":[
{"width":685,"height":89,"view":{"fill":"#E9EEF7","stroke":null},"data":{"values":[{"t":"外汇市场"}]},"mark":{"type":"text","align":"left","baseline":"middle","dx":9,"fontSize":42,"fontWeight":"bold"},"encoding":{"x":{"value":0},"text":{"field":"t"}}},
{"width":234,"height":89,"view":{"fill":"#E9EEF7","stroke":null},"data":{"values":[{"t":"本期"}]},"mark":{"type":"text","baseline":"middle","fontSize":40,"fontWeight":"bold"},"encoding":{"text":{"field":"t"}}},
{"width":222.5,"height":89,"view":{"fill":"#E9EEF7","stroke":null},"data":{"values":[{"t":"上期"}]},"mark":{"type":"text","baseline":"middle","fontSize":40,"fontWeight":"bold"},"encoding":{"text":{"field":"t"}}},
{"width":180.5,"height":89,"view":{"fill":"#E9EEF7","stroke":null},"data":{"values":[{"t":"边际变化"}]},"mark":{"type":"text","baseline":"middle","fontSize":31,"fontWeight":"bold"},"encoding":{"text":{"field":"t"}}},
{"vconcat":[
{"width":181,"height":43,"view":{"fill":"#E9EEF7","stroke":null},"data":{"values":[{"t":"历史分位"}]},"mark":{"type":"text","baseline":"middle","fontSize":31,"fontWeight":"bold"},"encoding":{"text":{"field":"t"}}},
{"width":181,"height":43,"view":{"fill":"#E9EEF7","stroke":null},"data":{"values":[{"t":"(近5年)"}]},"mark":{"type":"text","baseline":"middle","fontSize":31,"fontWeight":"bold"},"encoding":{"text":{"field":"t"}}}
],"spacing":3},
{"width":336,"height":89,"view":{"fill":"#E9EEF7","stroke":null},"data":{"values":[{"t":"近1年趋势图"}]},"mark":{"type":"text","baseline":"middle","fontSize":42,"fontWeight":"bold"},"encoding":{"text":{"field":"t"}}}
],"spacing":3.5},

{"hconcat":[
{"width":220.5,"height":125,"data":{"name":"s3"},
"transform":[{"window":[{"op":"row_number","as":"rn"}]},{"aggregate":[{"op":"min","field":"rn","as":"r0"},{"op":"max","field":"rn","as":"r1"}],"groupby":["cat","g"]},{"calculate":"datum.r0-1","as":"top"},{"calculate":"(datum.r0-1+datum.r1)/2","as":"mid"}],
"layer":[
{"transform":[{"filter":"datum.g%2==1"}],"mark":{"type":"rect","fill":"#F2F2F2"},"encoding":{"x":{"value":0},"x2":{"value":"width"},"y":{"field":"top","type":"quantitative","scale":{"domain":[0,3],"reverse":true,"nice":false,"zero":false},"axis":null},"y2":{"field":"r1"}}},
{"transform":[{"filter":"datum.g==1"}],"mark":{"type":"text","align":"left","baseline":"middle","dx":7,"fontSize":32},"encoding":{"x":{"value":0},"y":{"field":"mid","type":"quantitative"},"text":{"field":"cat"}}},
{"transform":[{"filter":"datum.g==2"}],"mark":{"type":"text","align":"left","baseline":"middle","dx":7,"dy":-20.8,"fontSize":32,"lineBreak":"\n","lineHeight":41.6},"encoding":{"x":{"value":0},"y":{"field":"mid","type":"quantitative"},"text":{"field":"cat"}}}
]},
{"width":461,"height":125,"data":{"name":"s3"},
"encoding":{"y":{"field":"item","type":"nominal","scale":{"domain":["美元兑人民币（人民币元）","中美利差（2Y）（bp）","中美利差（10Y）（bp）"],"paddingInner":0.06,"paddingOuter":0.03},"axis":null}},
"layer":[
{"transform":[{"filter":"datum.g%2==1"}],"mark":{"type":"rect","fill":"#F2F2F2"},"encoding":{"x":{"value":0},"x2":{"value":"width"}}},
{"mark":{"type":"text","align":"left","baseline":"middle","dx":5,"fontSize":32},"encoding":{"x":{"value":0},"text":{"field":"item"}}}
]},
{"width":234,"height":125,"data":{"name":"s3"},
"encoding":{"y":{"field":"item","type":"nominal","scale":{"domain":["美元兑人民币（人民币元）","中美利差（2Y）（bp）","中美利差（10Y）（bp）"],"paddingInner":0.09,"paddingOuter":0.045},"axis":null}},
"layer":[
{"transform":[{"filter":"datum.cur>=0"}],"mark":{"type":"bar","fill":{"gradient":"linear","x1":0,"y1":0,"x2":1,"y2":0,"stops":[{"offset":0,"color":"#9DC3E6"},{"offset":1,"color":"#EEF4FB"}]}},"encoding":{"x":{"field":"cur","type":"quantitative","scale":{"nice":false},"axis":null}}},
{"transform":[{"filter":"datum.cur<0"}],"mark":{"type":"bar","fill":{"gradient":"linear","x1":0,"y1":0,"x2":1,"y2":0,"stops":[{"offset":0,"color":"#EEF4FB"},{"offset":1,"color":"#9DC3E6"}]}},"encoding":{"x":{"field":"cur","type":"quantitative","scale":{"nice":false},"axis":null}}},
{"mark":{"type":"text","baseline":"middle","fontSize":32},"encoding":{"text":{"field":"cur","format":".2f"}}}
],"resolve":{"scale":{"x":"independent"}}},
{"width":222.5,"height":125,"data":{"name":"s3"},
"encoding":{"y":{"field":"item","type":"nominal","scale":{"domain":["美元兑人民币（人民币元）","中美利差（2Y）（bp）","中美利差（10Y）（bp）"],"paddingInner":0.09,"paddingOuter":0.045},"axis":null}},
"layer":[
{"transform":[{"filter":"datum.prev>=0"}],"mark":{"type":"bar","fill":{"gradient":"linear","x1":0,"y1":0,"x2":1,"y2":0,"stops":[{"offset":0,"color":"#9DC3E6"},{"offset":1,"color":"#EEF4FB"}]}},"encoding":{"x":{"field":"prev","type":"quantitative","scale":{"nice":false},"axis":null}}},
{"transform":[{"filter":"datum.prev<0"}],"mark":{"type":"bar","fill":{"gradient":"linear","x1":0,"y1":0,"x2":1,"y2":0,"stops":[{"offset":0,"color":"#EEF4FB"},{"offset":1,"color":"#9DC3E6"}]}},"encoding":{"x":{"field":"prev","type":"quantitative","scale":{"nice":false},"axis":null}}},
{"mark":{"type":"text","baseline":"middle","fontSize":32},"encoding":{"text":{"field":"prev","format":".2f"}}}
],"resolve":{"scale":{"x":"independent"}}},
{"width":180.5,"height":125,"data":{"name":"s3"},
"layer":[
{"transform":[{"filter":"datum.chg<0"}],"mark":{"type":"bar","fill":{"gradient":"linear","x1":0,"y1":0,"x2":1,"y2":0,"stops":[{"offset":0,"color":"#DDF4E6"},{"offset":1,"color":"#00B050"}]}},"encoding":{"y":{"field":"item","type":"nominal","scale":{"domain":["美元兑人民币（人民币元）","中美利差（2Y）（bp）","中美利差（10Y）（bp）"],"paddingInner":0.09,"paddingOuter":0.045},"axis":null},"x":{"field":"chg","type":"quantitative","scale":{"nice":false},"axis":null}}},
{"transform":[{"filter":"datum.chg>0"}],"mark":{"type":"bar","fill":{"gradient":"linear","x1":0,"y1":0,"x2":1,"y2":0,"stops":[{"offset":0,"color":"#FF0000"},{"offset":1,"color":"#FFDADA"}]}},"encoding":{"y":{"field":"item","type":"nominal"},"x":{"field":"chg","type":"quantitative"}}},
{"mark":{"type":"text","align":"right","baseline":"middle","dx":-4,"fontSize":32},"encoding":{"y":{"field":"item","type":"nominal"},"x":{"value":"width"},"text":{"field":"chg","format":".2f"}}}
]},
{"width":181,"height":125,"data":{"name":"s3"},
"encoding":{"y":{"field":"item","type":"nominal","scale":{"domain":["美元兑人民币（人民币元）","中美利差（2Y）（bp）","中美利差（10Y）（bp）"],"paddingInner":0.09,"paddingOuter":0.045},"axis":null}},
"layer":[
{"mark":{"type":"bar","fill":{"gradient":"linear","x1":0,"y1":0,"x2":1,"y2":0,"stops":[{"offset":0,"color":"#BDD7EE"},{"offset":1,"color":"#F4F8FC"}]}},"encoding":{"x":{"field":"pct","type":"quantitative","scale":{"domain":[0,1],"nice":false},"axis":null}}},
{"mark":{"type":"text","baseline":"middle","fontSize":32},"encoding":{"text":{"field":"pct","format":".0%"}}}
]},
{"data":{"name":"sp3"},
"facet":{"row":{"field":"s","type":"nominal","sort":["汇率","中美2Y","中美10Y"],"header":null}},
"spacing":{"row":0},"bounds":"flush",
"resolve":{"scale":{"y":"independent"}},
"spec":{"width":336,"height":41.67,
"layer":[
{"mark":{"type":"line","color":"#3C6BA5","strokeWidth":2.2,"clip":true},"encoding":{"x":{"field":"t","type":"quantitative","scale":{"domain":[0,100],"nice":false},"axis":null},"y":{"field":"v","type":"quantitative","scale":{"zero":false,"nice":false,"padding":4},"axis":null}}},
{"transform":[{"filter":"datum.hl"}],"mark":{"type":"point","filled":true,"color":"#E00000","size":40,"opacity":1,"clip":true},"encoding":{"x":{"field":"t","type":"quantitative"},"y":{"field":"v","type":"quantitative"}}}
]}}
],"spacing":3.5}
],
"spacing":1
}
